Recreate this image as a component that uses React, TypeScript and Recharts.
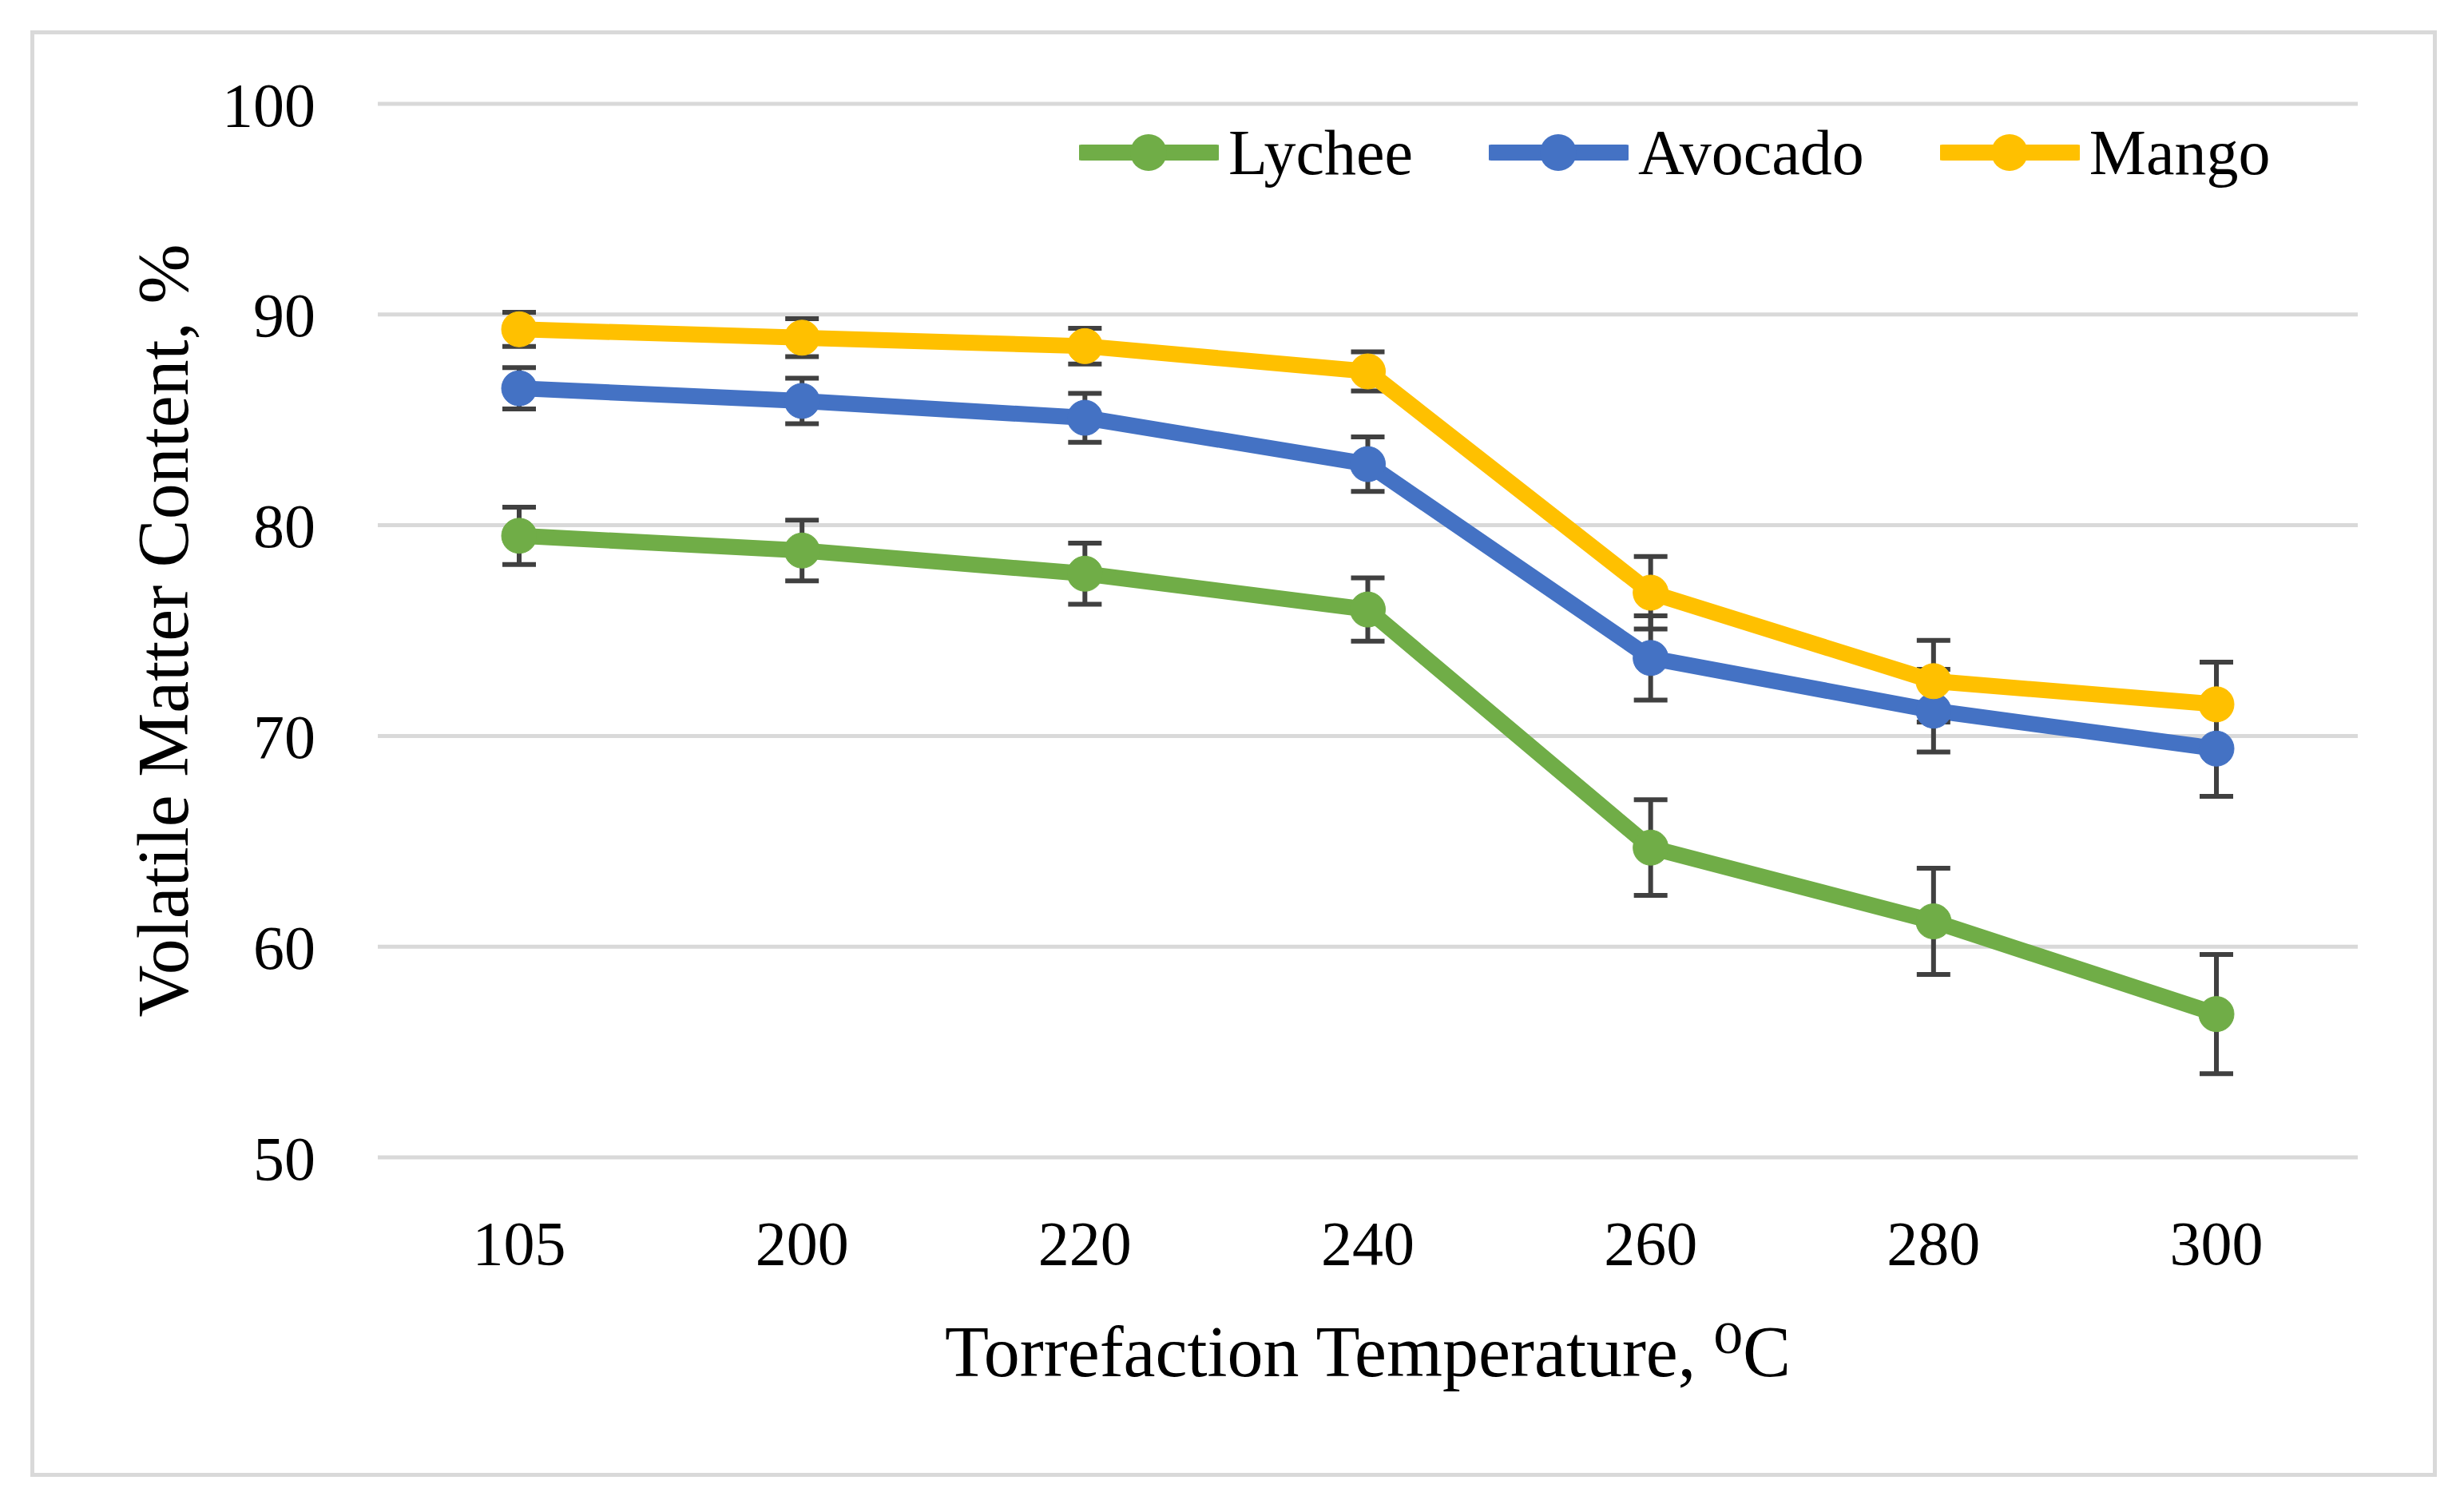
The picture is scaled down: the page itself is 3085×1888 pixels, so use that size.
import React from 'react'
import { CartesianGrid, ErrorBar, Legend, Line, LineChart, XAxis, YAxis } from 'recharts'

const temperatures = ['105', '200', '220', '240', '260', '280', '300']
const lychee = [79.5, 78.8, 77.7, 76.0, 64.7, 61.2, 56.8]
const lycheeErr = [1.36, 1.44, 1.45, 1.5, 2.27, 2.52, 2.83]
const avocado = [86.5, 85.9, 85.1, 82.9, 73.7, 71.2, 69.4]
const avocadoErr = [0.98, 1.08, 1.16, 1.29, 2.0, 1.96, 2.27]
const mango = [89.3, 88.9, 88.5, 87.3, 76.8, 72.6, 71.5]
const mangoErr = [0.81, 0.9, 0.85, 0.93, 1.72, 1.94, 2.0]
const yTicks = [50, 60, 70, 80, 90, 100]
const legendOrder = ['Lychee', 'Avocado', 'Mango']

const data = temperatures.map((t, i) => ({
    temp: t,
    lychee: lychee[i],
    lycheeErr: lycheeErr[i],
    avocado: avocado[i],
    avocadoErr: avocadoErr[i],
    mango: mango[i],
    mangoErr: mangoErr[i],
}))

const font = '"Liberation Serif", "DejaVu Serif", serif'

const LegendContent = ({ payload }: any) => {
    const items = [...(payload || [])].sort((a: any, b: any) => legendOrder.indexOf(a.value) - legendOrder.indexOf(b.value))
    return (
        <div style={{ display: 'flex', alignItems: 'center', height: 90, fontFamily: font, fontSize: 80, color: '#000' }}>
            {items.map((p: any) => (
                <div key={p.value} style={{ display: 'flex', alignItems: 'center', marginRight: 95 }}>
                    <svg width={175} height={48}>
                        <line x1={3} y1={24} x2={172} y2={24} stroke={p.color} strokeWidth={20} strokeLinecap='round' />
                        <circle cx={87} cy={24} r={23} fill={p.color} />
                    </svg>
                    <span style={{ marginLeft: 12, lineHeight: 1 }}>{p.value}</span>
                </div>
            ))}
        </div>
    )
}

const errorBarProps = { width: 21, strokeWidth: 6, stroke: '#404040' }

const App = () => {
    return (
        <div style={{ position: 'absolute', left: 0, top: 0, width: 3085, height: 1888, background: '#fff' }}>
            <div style={{ position: 'absolute', left: 38, top: 38, width: 3003, height: 1801, border: '5px solid #D9D9D9' }} />
            <LineChart
                width={3085}
                height={1888}
                data={data}
                margin={{ top: 130, right: 133, bottom: 289, left: 40 }}
            >
                <CartesianGrid vertical={false} stroke='#D9D9D9' strokeWidth={5} />
                <XAxis
                    dataKey='temp'
                    axisLine={false}
                    tickLine={false}
                    tickSize={0}
                    tickMargin={79}
                    height={150}
                    padding={{ left: 177, right: 177 }}
                    tick={{ fill: '#000', fontSize: 78, fontFamily: font }}
                    label={{ value: 'Torrefaction Temperature, ⁰C', position: 'bottom', offset: 60, fill: '#000', fontSize: 90, fontFamily: font }}
                />
                <YAxis
                    domain={[50, 100]}
                    ticks={yTicks}
                    axisLine={false}
                    tickLine={false}
                    tickSize={0}
                    tickMargin={78}
                    width={433}
                    tick={{ fill: '#000', fontSize: 78, fontFamily: font }}
                    label={{ value: 'Volatile Matter Content, %', angle: -90, position: 'insideLeft', offset: 163, fill: '#000', fontSize: 90, fontFamily: font, style: { textAnchor: 'middle' } }}
                />
                <Legend
                    layout='horizontal'
                    verticalAlign='middle'
                    align='center'
                    content={<LegendContent />}
                    wrapperStyle={{ top: 146, left: 1351, width: 'auto' }}
                />
                <Line dataKey='lychee' name='Lychee' stroke='#70AD47' strokeWidth={20} dot={{ r: 22, fill: '#70AD47', stroke: '#70AD47', strokeWidth: 1 }} isAnimationActive={false}>
                    <ErrorBar dataKey='lycheeErr' {...errorBarProps} />
                </Line>
                <Line dataKey='avocado' name='Avocado' stroke='#4472C4' strokeWidth={20} dot={{ r: 22, fill: '#4472C4', stroke: '#4472C4', strokeWidth: 1 }} isAnimationActive={false}>
                    <ErrorBar dataKey='avocadoErr' {...errorBarProps} />
                </Line>
                <Line dataKey='mango' name='Mango' stroke='#FFC000' strokeWidth={20} dot={{ r: 22, fill: '#FFC000', stroke: '#FFC000', strokeWidth: 1 }} isAnimationActive={false}>
                    <ErrorBar dataKey='mangoErr' {...errorBarProps} />
                </Line>
            </LineChart>
        </div>
    )
}

export default App
